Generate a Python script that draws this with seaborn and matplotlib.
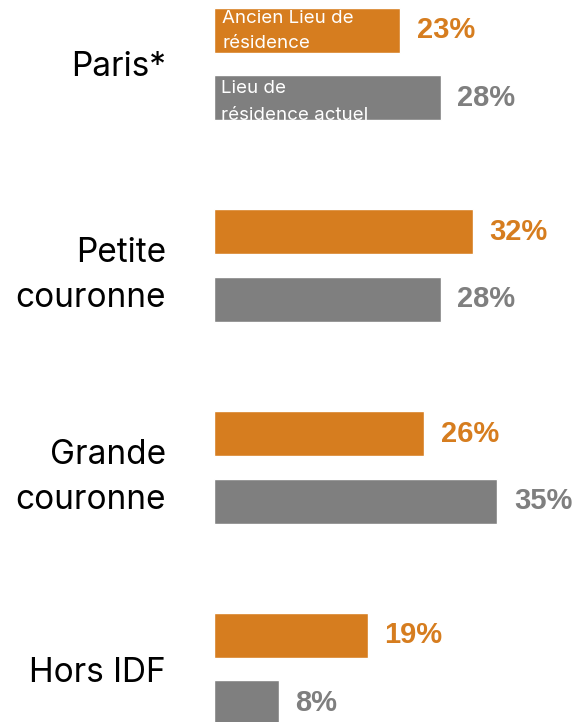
import matplotlib
matplotlib.use("Agg")
import matplotlib.pyplot as plt
import seaborn as sns
import pandas as pd

categories = ["Paris*", "Petite\ncouronne", "Grande\ncouronne", "Hors IDF"]
series = ["Ancien Lieu de\nrésidence", "Lieu de\nrésidence actuel"]
ancien = [23, 32, 26, 19]
actuel = [28, 28, 35, 8]
colors = ["#D67D1F", "#7F7F7F"]

df = pd.DataFrame({
    "cat": categories * 2,
    "serie": [series[0]] * 4 + [series[1]] * 4,
    "val": ancien + actuel,
})

sns.set_style("white")
plt.rcParams["font.family"] = ["Inter", "DejaVu Sans"]

fig = plt.figure(figsize=(5.8, 7.22), dpi=100)
left = 214 / 580
ax = fig.add_axes([left, 0, 1 - left, 1])

sns.barplot(data=df, y="cat", x="val", hue="serie", orient="h",
            order=categories, hue_order=series, palette=colors,
            width=0.669, gap=0.333, ax=ax, legend=False, saturation=1)

ax.set_xlim(0, 366 / 8.09)
ax.set_ylim(3.262, -0.316)
ax.set_xlabel("")
ax.set_ylabel("")
ax.set_xticks([])
for s in ax.spines.values():
    s.set_visible(False)
ax.tick_params(axis="y", length=0, pad=34.5)
ax.set_yticks(range(len(categories)))
ax.set_yticklabels(categories, fontsize=24, color="black", linespacing=1.52)

for cont, vals, col in zip(ax.containers, [ancien, actuel], colors):
    ax.bar_label(cont, labels=[f"{v}%" for v in vals], padding=12,
                 fontsize=21, fontweight="bold", color=col,
                 family=["Liberation Sans", "DejaVu Sans"])

# series names written inside the first pair of bars, clipped to the bar
offsets = [(5.8, [-10.8, -28.8]), (4.8, [-13.2, -32.5])]
for cont, name, (dx, dys) in zip(ax.containers, series, offsets):
    bar = cont.patches[0]
    for line, dy in zip(name.split("\n"), dys):
        t = ax.annotate(line, xy=(bar.get_x(), bar.get_y()), xytext=(dx, dy),
                        textcoords="offset points", va="baseline", ha="left",
                        fontsize=13.5, color="white",
                        family=["Inter", "DejaVu Sans"])
        t.set_clip_path(bar)

fig.savefig("out.png", dpi=100)
